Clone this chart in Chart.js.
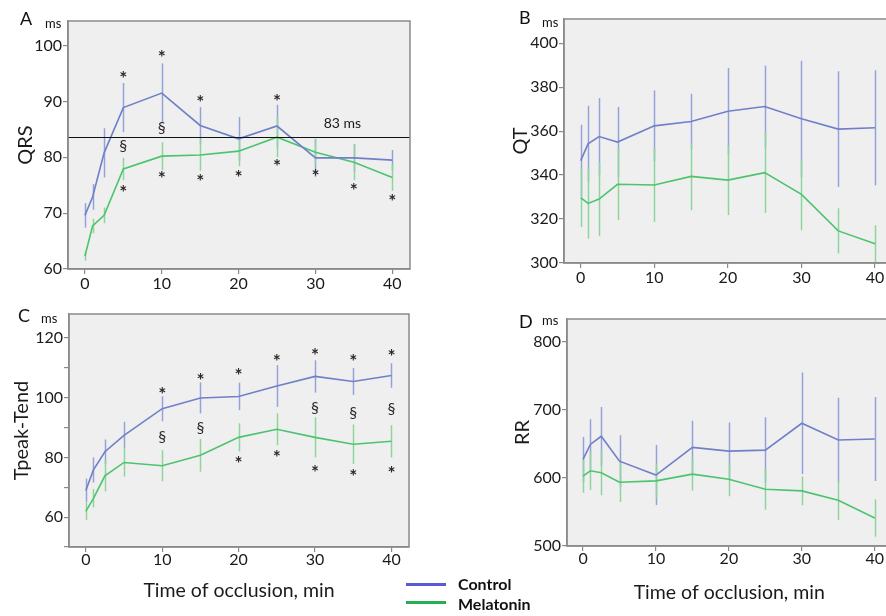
<!DOCTYPE html>
<html><head><meta charset="utf-8">
<script src="https://cdn.jsdelivr.net/npm/chart.js@4.4.1/dist/chart.umd.min.js"></script>
<style>
html,body{margin:0;padding:0;background:#fff;}
body{width:886px;height:616px;overflow:hidden;position:relative;font-family:Lato,"Liberation Sans",sans-serif;color:#111;}
canvas{position:absolute;}
.lbl{position:absolute;line-height:1;white-space:nowrap;}
.pl{font-size:18px;}
.ms{font-size:13px;}
.lg{position:absolute;height:3px;width:40px;left:406px;}
.lt{position:absolute;left:458px;font-weight:bold;font-size:16px;line-height:1;}
</style></head>
<body>
<canvas id="cA" width="420" height="300" style="left:0;top:0"></canvas>
<canvas id="cB" width="420" height="300" style="left:490px;top:0"></canvas>
<canvas id="cC" width="420" height="316" style="left:0;top:300px"></canvas>
<canvas id="cD" width="420" height="316" style="left:490px;top:300px"></canvas>

<div class="lbl pl" style="left:20px;top:9px">A</div>
<div class="lbl ms" style="left:45px;top:17px">ms</div>
<div class="lbl pl" style="left:519px;top:8px">B</div>
<div class="lbl ms" style="left:542px;top:16px">ms</div>
<div class="lbl pl" style="left:18px;top:306px">C</div>
<div class="lbl ms" style="left:41px;top:312px">ms</div>
<div class="lbl pl" style="left:519px;top:312px">D</div>
<div class="lbl ms" style="left:542px;top:314px">ms</div>

<div class="lg" style="top:583px;background:#5a5ad6"></div>
<div class="lg" style="top:601px;background:#22b052"></div>
<div class="lt" style="top:576px">Control</div>
<div class="lt" style="top:596px">Melatonin</div>

<script>
// ---- data ----
const times = [0, 1, 2.5, 5, 10, 15, 20, 25, 30, 35, 40];
const xTickValues = [0, 10, 20, 30, 40];

const qrsControl     = [69.6, 72.9, 80.8, 88.9, 91.5, 85.7, 83.3, 85.6, 79.9, 79.9, 79.5];
const qrsControlErr  = [2.2, 2.3, 4.4, 4.4, 5.3, 3.3, 3.9, 3.8, 3.4, 2.5, 1.8];
const qrsMelatonin   = [62.3, 67.7, 69.6, 77.9, 80.2, 80.4, 81.1, 83.6, 80.9, 79.1, 76.4];
const qrsMelatoninErr= [0.8, 1.3, 1.4, 2.0, 2.5, 2.8, 2.7, 3.6, 2.4, 3.2, 2.4];
const qrsReference   = 83.6;
const qrsReferenceLabel = "83 ms";
const qrsMarks = [
  [5, 94.7, "*"], [5, 82.1, "§"], [5, 74.4, "*"],
  [10, 98.5, "*"], [10, 85.2, "§"], [10, 76.9, "*"],
  [15, 90.4, "*"], [15, 76.4, "*"],
  [20, 77.0, "*"],
  [25, 90.7, "*"], [25, 79.0, "*"],
  [30, 77.2, "*"], [35, 74.7, "*"], [40, 72.8, "*"]
];

const qtControl      = [346.6, 354.2, 357.5, 355.0, 362.4, 364.4, 369.0, 371.2, 365.6, 360.9, 361.5];
const qtControlErr   = [16.3, 17.3, 17.5, 16.0, 16.1, 12.6, 19.7, 18.6, 26.4, 26.3, 26.2];
const qtMelatonin    = [329.7, 327.1, 329.1, 335.8, 335.5, 339.4, 337.7, 341.1, 331.2, 314.6, 308.8];
const qtMelatoninErr = [13.3, 16.0, 16.9, 16.3, 16.8, 15.4, 15.9, 18.3, 16.3, 10.3, 8.4];

const tpControl      = [68.9, 75.8, 81.9, 87.4, 96.3, 99.9, 100.4, 103.9, 107.1, 105.4, 107.4];
const tpControlErr   = [4.0, 4.2, 4.1, 4.5, 4.2, 5.2, 4.6, 7.0, 5.4, 4.5, 4.1];
const tpMelatonin    = [61.9, 66.3, 73.8, 78.3, 77.2, 80.7, 86.7, 89.4, 86.7, 84.4, 85.4];
const tpMelatoninErr = [2.8, 3.1, 5.2, 4.7, 5.2, 5.5, 4.7, 5.3, 6.7, 6.6, 5.4];
const tpMarks = [
  [10, 102.4, "*"], [10, 86.9, "§"],
  [15, 107.1, "*"], [15, 90.0, "§"],
  [20, 108.6, "*"], [20, 79.1, "*"],
  [25, 113.2, "*"], [25, 81.3, "*"],
  [30, 115.2, "*"], [30, 96.7, "§"], [30, 76.3, "*"],
  [35, 113.3, "*"], [35, 94.9, "§"], [35, 74.9, "*"],
  [40, 115.0, "*"], [40, 96.3, "§"], [40, 75.8, "*"]
];

const rrControl      = [627, 649, 661, 624.5, 604, 644.6, 639.2, 640.7, 680, 655.4, 656.9];
const rrControlErr   = [33, 37, 43, 38, 44, 39, 42, 48, 74.5, 62, 61.5];
const rrMelatonin    = [602.5, 610.3, 607.4, 593.6, 595.6, 605.4, 598, 583.3, 580.9, 567.2, 541.2];
const rrMelatoninErr = [24.5, 28, 33, 29, 25, 24, 25, 30, 21, 29, 27.5];

const seriesNames = ["Control", "Melatonin"];
const xTitle = "Time of occlusion, min";

// ---- styles ----
const COL = {
  ctrlLine: '#7080c8', ctrlBar: '#95a1da',
  melLine: '#4cc46d', melBar: '#8cd69d',
  axis: '#8a8a8a', text: '#1a1a1a', mark: '#2e2a2a', bg: '#efefef'
};
const FONT = 'Lato, "Liberation Sans", sans-serif';

function pts(vals) { return times.map((t, i) => ({ x: t, y: vals[i] })); }

const panelPlugin = {
  id: 'panel',
  beforeDraw(chart) {
    const { ctx, chartArea: a } = chart;
    ctx.save();
    ctx.fillStyle = COL.bg;
    ctx.fillRect(a.left, a.top, a.right - a.left, a.bottom - a.top);
    ctx.restore();
  },
  beforeDatasetsDraw(chart) {
    const { ctx, chartArea: a, scales: { x, y } } = chart;
    ctx.save();
    ctx.beginPath();
    ctx.rect(a.left, a.top, a.right - a.left, a.bottom - a.top);
    ctx.clip();
    chart.data.datasets.forEach(ds => {
      ctx.strokeStyle = ds.barColor;
      ctx.lineWidth = 1.5;
      ds.data.forEach((p, i) => {
        const e = ds.errors[i];
        const px = Math.round(x.getPixelForValue(p.x)) + 0.5;
        ctx.beginPath();
        ctx.moveTo(px, y.getPixelForValue(p.y + e));
        ctx.lineTo(px, y.getPixelForValue(p.y - e));
        ctx.stroke();
      });
    });
    ctx.restore();
  },
  afterDatasetsDraw(chart, args, opts) {
    const { ctx, chartArea: a, scales: { x, y } } = chart;
    ctx.save();
    if (opts.ref !== undefined && opts.ref !== null) {
      const py = Math.round(y.getPixelForValue(opts.ref)) + 0.5;
      ctx.strokeStyle = '#111';
      ctx.lineWidth = 1.2;
      ctx.beginPath();
      ctx.moveTo(a.left, py);
      ctx.lineTo(a.right, py);
      ctx.stroke();
      ctx.fillStyle = COL.text;
      ctx.font = '14px ' + FONT;
      ctx.textAlign = 'center';
      ctx.textBaseline = 'middle';
      ctx.fillText(opts.refLabel, x.getPixelForValue(33.5), py - 14);
    }
    (opts.marks || []).forEach(m => {
      const px = x.getPixelForValue(m[0]);
      const py = y.getPixelForValue(m[1]);
      ctx.fillStyle = COL.mark;
      ctx.textAlign = 'center';
      ctx.textBaseline = 'middle';
      if (m[2] === '*') {
        ctx.font = 'bold 19px ' + FONT;
        ctx.fillText('*', px, py + 4);
      } else {
        ctx.font = '16px ' + FONT;
        ctx.fillText(m[2], px, py);
      }
    });
    ctx.restore();
  },
  afterDraw(chart) {
    const { ctx, chartArea: a } = chart;
    ctx.save();
    ctx.strokeStyle = COL.axis;
    ctx.lineWidth = 1.5;
    ctx.strokeRect(a.left, a.top, a.right - a.left, a.bottom - a.top);
    ctx.restore();
  }
};

function makeChart(id, o) {
  const tickFont = { family: FONT, size: 16 };
  new Chart(document.getElementById(id), {
    type: 'line',
    plugins: [panelPlugin],
    data: {
      datasets: [
        { label: seriesNames[0], data: pts(o.ctrl), errors: o.ctrlErr, barColor: COL.ctrlBar,
          borderColor: COL.ctrlLine, borderWidth: 1.6, pointRadius: 0, fill: false, tension: 0 },
        { label: seriesNames[1], data: pts(o.mel), errors: o.melErr, barColor: COL.melBar,
          borderColor: COL.melLine, borderWidth: 1.6, pointRadius: 0, fill: false, tension: 0 }
      ]
    },
    options: {
      responsive: false, animation: false, devicePixelRatio: 1,
      layout: { padding: o.pad },
      plugins: {
        legend: { display: false }, tooltip: { enabled: false },
        panel: { marks: o.marks, ref: o.ref, refLabel: o.refLabel }
      },
      scales: {
        x: {
          type: 'linear', min: o.xmin, max: o.xmax,
          afterFit(s) { s.height = o.xh; },
          afterBuildTicks(s) { s.ticks = xTickValues.map(v => ({ value: v })); },
          ticks: { font: tickFont, color: COL.text, padding: o.xpad, maxRotation: 0, autoSkip: false },
          grid: { drawOnChartArea: false, tickLength: 5, color: COL.axis, lineWidth: 1.2 },
          border: { color: COL.axis, width: 1.5 },
          title: o.xtitle ? { display: true, text: xTitle, color: COL.text,
                   font: { family: FONT, size: 19.5 }, padding: { top: 0, bottom: o.xtp } } : { display: false }
        },
        y: {
          type: 'linear', min: o.ymin, max: o.ymax,
          afterFit(s) { s.width = o.yw; },
          ticks: { stepSize: o.step, includeBounds: false, font: tickFont, color: COL.text, padding: 1,
                   callback: v => (o.labelEvery ? (v % o.labelEvery === 0 && v >= o.labelMin ? v : '') : v) },
          grid: { drawOnChartArea: false, tickLength: 5, color: COL.axis, lineWidth: 1.2 },
          border: { color: COL.axis, width: 1.5 },
          title: { display: true, text: o.ytitle, color: COL.text,
                   font: { family: FONT, size: 20 }, padding: { top: o.ytp, bottom: 0 } }
        }
      }
    }
  });
}

makeChart('cA', {
  ctrl: qrsControl, ctrlErr: qrsControlErr, mel: qrsMelatonin, melErr: qrsMelatoninErr,
  marks: qrsMarks, ref: qrsReference, refLabel: qrsReferenceLabel,
  pad: { top: 21, right: 10, left: 0, bottom: 0 }, yw: 68, xh: 31, xpad: 0,
  xmin: -2.2, xmax: 42.3, ymin: 60, ymax: 104.4, step: 10,
  ytitle: 'QRS', ytp: 14, xtitle: false
});
makeChart('cB', {
  ctrl: qtControl, ctrlErr: qtControlErr, mel: qtMelatonin, melErr: qtMelatoninErr,
  marks: [], ref: null,
  pad: { top: 19, right: 18, left: 0, bottom: 0 }, yw: 74, xh: 37, xpad: 0,
  xmin: -2.27, xmax: 42.3, ymin: 300, ymax: 411, step: 20,
  ytitle: 'QT', ytp: 19, xtitle: false
});
makeChart('cC', {
  ctrl: tpControl, ctrlErr: tpControlErr, mel: tpMelatonin, melErr: tpMelatoninErr,
  marks: tpMarks, ref: null,
  pad: { top: 14, right: 11, left: 0, bottom: 0 }, yw: 69, xh: 69, xpad: -2,
  xmin: -2.2, xmax: 42.3, ymin: 50, ymax: 128, step: 10, labelEvery: 20, labelMin: 60,
  ytitle: 'Tpeak-Tend', ytp: 10, xtitle: true, xtp: 14
});
makeChart('cD', {
  ctrl: rrControl, ctrlErr: rrControlErr, mel: rrMelatonin, melErr: rrMelatoninErr,
  marks: [], ref: null,
  pad: { top: 19, right: 18.5, left: 0, bottom: 0 }, yw: 77, xh: 70, xpad: -2,
  xmin: -2.2, xmax: 42.3, ymin: 500, ymax: 833, step: 100,
  ytitle: 'RR', ytp: 21, xtitle: true, xtp: 12
});
</script>
</body></html>
